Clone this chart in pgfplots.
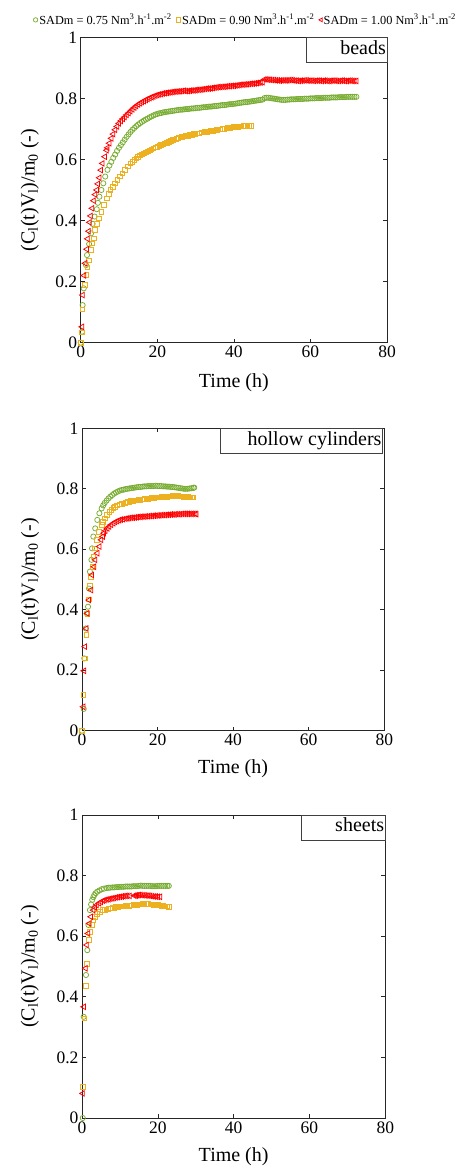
\documentclass[border=0pt]{standalone}
\usepackage{fontspec}
\setmainfont{Liberation Serif}
\usepackage{pgfplots}
\pgfplotsset{compat=1.18}

\definecolor{cgreen}{RGB}{119,172,48}
\definecolor{corange}{RGB}{237,177,32}
\definecolor{cred}{RGB}{255,0,0}

\pgfplotsset{
  panel/.style={
    scale only axis,
    anchor=south west,
    xmin=0, xmax=80, ymin=0, ymax=1,
    xtick={0,20,40,60,80},
    ytick={0,0.2,0.4,0.6,0.8,1},
    tick align=inside,
    major tick length=4pt,
    axis line style={line width=0.8pt, black!85},
    tick style={line width=0.6pt, black!85},
    ticklabel style={font=\fontsize{17.5}{20}\selectfont},
    /pgf/number format/assume math mode=true,
    label style={font=\fontsize{20}{22}\selectfont},
    xlabel={Time (h)},
    ylabel={(C\textsubscript{l}(t)V\textsubscript{l})/m\textsubscript{0} (-)},
    clip=false,
  },
  sg/.style={only marks, mark=o, mark size=2.6pt, draw=cgreen, mark options={line width=0.75pt}},
  so/.style={only marks, mark=square, mark size=2.3pt, draw=corange, mark options={line width=0.75pt}},
  sr/.style={only marks, mark=triangle, mark size=3.2pt, draw=cred, mark options={rotate=90, line width=0.75pt}},
}

\begin{document}
\begin{tikzpicture}
\path[use as bounding box] (0pt,0pt) rectangle (456pt,1166pt);

% ---------------- beads ----------------
\begin{axis}[panel,
  at={(80.7pt,823.3pt)}, width=306.3pt, height=305.4pt,
  xlabel style={at={(axis description cs:0.5,-0.13)}, anchor=center},
  ylabel style={at={(axis description cs:-0.166,0.5)}, anchor=center},
  legend columns=3,
  legend style={draw=none, fill=none, inner sep=0pt, at={(axis description cs:-0.155,1.057)}, anchor=west,
    font=\fontsize{12.3}{14}\selectfont,
    nodes={inner sep=1.5pt},
    /tikz/every even column/.append style={column sep=3pt}},
  legend image code/.code={\draw[#1, mark size=2.2pt] plot coordinates {(0pt,0pt)};},
]
\addplot[sg] coordinates {
(0,0) (0.35,0.036) (0.5,0.123) (0.8,0.178) (1.4,0.254) (1.65,0.287) (2.2,0.323) (2.7,0.358)
(3.1,0.389) (3.65,0.413) (4.2,0.437) (4.5,0.458) (4.9,0.478) (5.4,0.50) (5.9,0.522) (6.4,0.544)
(7.0,0.566) (7.5,0.58) (8.0,0.592) (8.5,0.605) (9.0,0.616) (9.5,0.628) (10,0.638) (10.5,0.647)
(11,0.656) (11.5,0.665) (12,0.674) (12.5,0.682) (13,0.69) (13.5,0.697) (14,0.703) (14.5,0.709)
(15,0.714) (15.5,0.719) (16,0.723) (16.5,0.727) (17,0.731) (17.5,0.734) (18,0.738) (18.5,0.741)
(19,0.744) (19.5,0.747) (20,0.749) (20.5,0.751) (21,0.752) (21.5,0.754) (22,0.755) (22.5,0.756)
(23,0.757) (23.5,0.758) (24,0.759) (24.5,0.760) (25,0.761) (25.5,0.762) (26,0.763) (26.5,0.763)
(27,0.764) (27.5,0.765) (28,0.765) (28.5,0.766) (29,0.767) (29.5,0.767) (30,0.768) (30.5,0.769)
(31,0.769) (31.5,0.770) (32,0.771) (32.5,0.771) (33,0.772) (33.5,0.773) (34,0.773) (34.5,0.774)
(35,0.775) (35.5,0.775) (36,0.776) (36.5,0.777) (37,0.778) (37.5,0.778) (38,0.779) (38.5,0.780)
(39,0.781) (39.5,0.781) (40,0.782) (40.5,0.783) (41,0.784) (41.5,0.785) (42,0.786) (42.5,0.787)
(43,0.788) (43.5,0.788) (44,0.789) (44.5,0.790) (45,0.791) (45.5,0.792) (46,0.793) (46.5,0.794)
(47,0.795) (47.5,0.796) (48,0.801) (48.5,0.802) (49,0.802) (49.5,0.801) (50,0.800) (50.5,0.799)
(51,0.798) (51.5,0.797) (52,0.796) (52.5,0.795) (53,0.795) (53.5,0.795) (54,0.796) (54.5,0.796)
(55,0.797) (55.5,0.797) (56,0.797) (56.5,0.798) (57,0.798) (57.5,0.798) (58,0.798) (58.5,0.799)
(59,0.799) (59.5,0.799) (60,0.800) (60.5,0.800) (61,0.800) (61.5,0.801) (62,0.801) (62.5,0.801)
(63,0.801) (63.5,0.802) (64,0.802) (64.5,0.802) (65,0.802) (65.5,0.803) (66,0.803) (66.5,0.803)
(67,0.803) (67.5,0.804) (68,0.804) (68.5,0.804) (69,0.804) (69.5,0.805) (70,0.805) (70.5,0.805)
(71,0.805) (71.5,0.805) (72,0.805)
};
\addlegendentry{SADm = 0.75 Nm\textsuperscript{3}.h\textsuperscript{-1}.m\textsuperscript{-2}}
\addplot[so] coordinates {
(0,0) (0.25,0.034) (0.45,0.109) (1.1,0.19) (1.5,0.222) (1.75,0.247) (2.1,0.269) (2.6,0.303)
(2.95,0.325) (3.4,0.342) (3.75,0.369) (4.2,0.39) (4.8,0.407) (5.4,0.429) (6.1,0.451) (6.8,0.473)
(7.3,0.488) (7.8,0.50) (8.4,0.511) (9.0,0.522) (9.6,0.533) (10.3,0.544) (10.9,0.555) (11.6,0.566)
(12.3,0.577) (13,0.587) (13.5,0.593) (14,0.598) (14.5,0.604) (15,0.609) (15.5,0.613) (16,0.617)
(16.5,0.62) (17,0.623) (17.5,0.627) (18,0.630) (18.5,0.633) (19,0.636) (19.5,0.639) (20,0.641)
(20.5,0.644) (21,0.647) (21.5,0.650) (22,0.652) (22.5,0.655) (23,0.658) (23.5,0.661) (24,0.664)
(24.5,0.666) (25,0.668) (25.5,0.670) (26,0.672) (26.5,0.674) (27,0.675) (27.5,0.677) (28,0.678)
(28.5,0.680) (29,0.681) (29.5,0.683) (30,0.684) (30.5,0.685) (31,0.686) (31.5,0.688) (32,0.689)
(32.5,0.690) (33,0.691) (33.5,0.692) (34,0.693) (34.5,0.694) (35,0.695) (35.5,0.697) (36,0.698)
(36.5,0.699) (37,0.700) (37.5,0.701) (38,0.702) (38.5,0.703) (39,0.704) (39.5,0.705) (40,0.706)
(40.5,0.706) (41,0.707) (41.5,0.708) (42,0.708) (42.5,0.709) (43,0.709) (43.5,0.709) (44,0.709) (44.5,0.710)
};
\addlegendentry{SADm = 0.90 Nm\textsuperscript{3}.h\textsuperscript{-1}.m\textsuperscript{-2}}
\addplot[sr] coordinates {
(0.35,0.052) (0.5,0.156) (0.9,0.22) (1.2,0.26) (1.6,0.306) (1.8,0.34) (2.1,0.365) (2.35,0.394)
(2.6,0.415) (3.0,0.44) (3.4,0.465) (3.8,0.485) (4.2,0.50) (4.5,0.52) (4.9,0.54) (5.3,0.565)
(5.7,0.587) (6.3,0.609) (6.8,0.63) (7.0,0.638) (7.5,0.653) (8.0,0.669) (8.5,0.683) (9.0,0.697)
(9.5,0.708) (10,0.718) (10.5,0.726) (11,0.733) (11.5,0.739) (12,0.746) (12.5,0.752) (13,0.758)
(13.5,0.764) (14,0.770) (14.5,0.775) (15,0.780) (15.5,0.784) (16,0.788) (16.5,0.791) (17,0.795)
(17.5,0.798) (18,0.801) (18.5,0.804) (19,0.806) (19.5,0.809) (20,0.811) (20.5,0.813) (21,0.814)
(21.5,0.816) (22,0.817) (22.5,0.818) (23,0.819) (23.5,0.820) (24,0.821) (24.5,0.822) (25,0.822)
(25.5,0.823) (26,0.823) (26.5,0.824) (27,0.825) (27.5,0.824) (28,0.824) (28.5,0.825) (29,0.826)
(29.5,0.826) (30,0.827) (30.5,0.828) (31,0.828) (31.5,0.829) (32,0.830) (32.5,0.831) (33,0.832)
(33.5,0.832) (34,0.833) (34.5,0.834) (35,0.835) (35.5,0.836) (36,0.837) (36.5,0.837) (37,0.838)
(37.5,0.838) (38,0.839) (38.5,0.840) (39,0.840) (39.5,0.841) (40,0.841) (40.5,0.842) (41,0.843)
(41.5,0.844) (42,0.845) (42.5,0.845) (43,0.846) (43.5,0.846) (44,0.847) (44.5,0.848) (45,0.848)
(45.5,0.849) (46,0.850) (46.5,0.851) (47,0.852) (47.5,0.853) (48,0.862) (48.5,0.862) (49,0.861)
(49.5,0.861) (50,0.860) (50.5,0.860) (51,0.859) (51.5,0.859) (52,0.858) (52.5,0.859) (53,0.859)
(53.5,0.859) (54,0.859) (54.5,0.860) (55,0.860) (55.5,0.859) (56,0.858) (56.5,0.858) (57,0.857)
(57.5,0.858) (58,0.858) (58.5,0.859) (59,0.859) (59.5,0.858) (60,0.858) (60.5,0.858) (61,0.857)
(61.5,0.858) (62,0.858) (62.5,0.858) (63,0.857) (63.5,0.858) (64,0.858) (64.5,0.857) (65,0.857)
(65.5,0.858) (66,0.858) (66.5,0.858) (67,0.857) (67.5,0.857) (68,0.858) (68.5,0.858) (69,0.857)
(69.5,0.857) (70,0.858) (70.5,0.858) (71,0.857) (71.5,0.857) (72,0.857)
};
\addlegendentry{SADm = 1.00 Nm\textsuperscript{3}.h\textsuperscript{-1}.m\textsuperscript{-2}}
\draw[black!75, line width=0.8pt, fill=white] (rel axis cs:0.7356,1) rectangle (rel axis cs:1,0.917);
\node[anchor=base east, inner sep=1pt, font=\fontsize{20}{22}\selectfont] at (rel axis cs:1,0.944) {beads};
\end{axis}

% ---------------- hollow cylinders ----------------
\begin{axis}[panel,
  at={(82pt,435.3pt)}, width=302.3pt, height=302.4pt,
  xlabel style={at={(axis description cs:0.5,-0.127)}, anchor=center},
  ylabel style={at={(axis description cs:-0.172,0.5)}, anchor=center},
]
\addplot[sg] coordinates {
(0,0) (0.45,0.072) (0.6,0.239) (1.0,0.338) (1.25,0.388) (1.6,0.41) (1.85,0.47) (2.1,0.526)
(2.5,0.565) (2.65,0.603) (3.0,0.642) (3.5,0.669) (4.05,0.697) (4.6,0.719) (5.2,0.735) (5.6,0.745)
(6.0,0.753) (6.5,0.761) (7.0,0.768) (7.5,0.774) (8,0.779) (8.5,0.784) (9,0.788) (9.5,0.791)
(10,0.794) (10.5,0.796) (11,0.797) (11.5,0.799) (12,0.800) (12.5,0.801) (13,0.802) (13.5,0.803)
(14,0.804) (14.5,0.805) (15,0.806) (15.5,0.806) (16,0.807) (16.5,0.808) (17,0.808) (17.5,0.809)
(18,0.809) (18.5,0.809) (19,0.809) (19.5,0.810) (20,0.809) (20.5,0.809) (21,0.809) (21.5,0.808)
(22,0.808) (22.5,0.807) (23,0.807) (23.5,0.806) (24,0.806) (24.5,0.805) (25,0.804) (25.5,0.803)
(26,0.802) (26.5,0.801) (27,0.800) (27.5,0.800) (28,0.800) (28.5,0.801) (29,0.802) (29.5,0.803) (29.7,0.804)
};
\addplot[so] coordinates {
(0,0) (0.35,0.118) (0.7,0.239) (1.15,0.316) (1.4,0.386) (1.85,0.434) (2.1,0.478) (2.4,0.509)
(2.75,0.542) (3.0,0.576) (3.45,0.603) (3.9,0.631) (4.5,0.658) (5.2,0.68) (5.6,0.69) (6.1,0.702)
(6.6,0.713) (7.2,0.724) (7.8,0.731) (8.3,0.737) (8.7,0.741) (9.3,0.745) (10,0.749) (10.5,0.751)
(11,0.752) (11.5,0.754) (12,0.756) (12.5,0.757) (13,0.759) (13.5,0.760) (14,0.761) (14.5,0.762)
(15,0.763) (15.5,0.764) (16,0.765) (16.5,0.766) (17,0.767) (17.5,0.767) (18,0.768) (18.5,0.769)
(19,0.770) (19.5,0.771) (20,0.772) (20.5,0.772) (21,0.773) (21.5,0.773) (22,0.774) (22.5,0.774)
(23,0.775) (23.5,0.775) (24,0.776) (24.5,0.776) (25,0.776) (25.5,0.776) (26,0.775) (26.5,0.775)
(27,0.774) (27.5,0.774) (28,0.773) (28.5,0.772) (29,0.772) (29.5,0.772)
};
\addplot[sr] coordinates {
(0.35,0.079) (0.55,0.198) (0.8,0.278) (1.15,0.338) (1.4,0.388) (1.85,0.432) (2.4,0.465) (2.65,0.515)
(3.2,0.542) (3.5,0.565) (4.05,0.587) (4.6,0.609) (5.1,0.631) (5.5,0.642) (5.8,0.653) (6.2,0.661)
(6.7,0.669) (7.2,0.675) (7.7,0.681) (8.3,0.686) (8.8,0.690) (9.3,0.693) (9.8,0.696) (10.3,0.698)
(10.9,0.699) (11.5,0.701) (12,0.702) (12.5,0.703) (13,0.704) (13.5,0.704) (14,0.705) (14.5,0.706)
(15,0.707) (15.5,0.707) (16,0.708) (16.5,0.708) (17,0.709) (17.5,0.709) (18,0.710) (18.5,0.710)
(19,0.711) (19.5,0.711) (20,0.712) (20.5,0.712) (21,0.713) (21.5,0.713) (22,0.713) (22.5,0.714)
(23,0.714) (23.5,0.715) (24,0.715) (24.5,0.715) (25,0.716) (25.5,0.716) (26,0.716) (26.5,0.717)
(27,0.717) (27.5,0.717) (28,0.717) (28.5,0.717) (29,0.717) (29.5,0.717) (30,0.717) (30.3,0.716)
};
\draw[black!75, line width=0.8pt, fill=white] (rel axis cs:0.4565,1) rectangle (rel axis cs:0.9947,0.916);
\node[anchor=base east, inner sep=1pt, font=\fontsize{20}{22}\selectfont] at (rel axis cs:0.9947,0.943) {hollow cylinders};
\end{axis}

% ---------------- sheets ----------------
\begin{axis}[panel,
  at={(82pt,48pt)}, width=303.3pt, height=303pt,
  xlabel style={at={(axis description cs:0.5,-0.127)}, anchor=center},
  ylabel style={at={(axis description cs:-0.172,0.5)}, anchor=center},
]
\addplot[sg] coordinates {
(0.2,0) (0.45,0.334) (1.05,0.472) (1.4,0.554) (1.7,0.637) (2.1,0.686) (2.4,0.705) (2.7,0.72)
(3.0,0.729) (3.25,0.736) (3.6,0.742) (4.05,0.747) (4.6,0.751) (5.2,0.755) (5.8,0.757) (6.5,0.759)
(7,0.760) (7.4,0.760) (8,0.761) (8.5,0.761) (9,0.762) (9.5,0.762) (10,0.763) (10.5,0.763)
(11,0.763) (11.5,0.764) (12,0.764) (12.5,0.764) (13,0.764) (13.5,0.765) (14,0.765) (14.5,0.765)
(15,0.766) (15.5,0.767) (16,0.766) (16.5,0.766) (17,0.766) (17.5,0.766) (18,0.766) (18.5,0.765)
(19,0.765) (19.5,0.765) (20,0.766) (20.5,0.766) (21,0.766) (21.5,0.766) (22,0.766) (22.5,0.766) (22.9,0.766)
};
\addplot[so] coordinates {
(0.25,0.103) (0.6,0.329) (0.95,0.436) (1.3,0.508) (1.75,0.587) (2.1,0.615) (2.55,0.637) (3.0,0.652)
(3.4,0.664) (4.0,0.673) (4.75,0.681) (5.5,0.686) (6,0.687) (6.4,0.689) (7,0.691) (7.4,0.692)
(8,0.693) (8.5,0.694) (9,0.696) (9.5,0.697) (10,0.698) (10.5,0.699) (11,0.699) (11.5,0.700)
(12,0.700) (12.5,0.701) (13,0.702) (13.5,0.703) (14,0.704) (14.5,0.704) (15,0.705) (15.5,0.705)
(16,0.706) (16.5,0.706) (17,0.706) (17.5,0.706) (18,0.705) (18.5,0.705) (19,0.704) (19.5,0.703)
(20,0.703) (20.5,0.702) (21,0.701) (21.5,0.700) (22,0.699) (22.5,0.698) (22.9,0.697)
};
\addplot[sr] coordinates {
(0.2,0.081) (0.5,0.367) (0.95,0.494) (1.25,0.571) (1.6,0.609) (1.95,0.642) (2.35,0.664) (3.0,0.686)
(3.4,0.695) (3.85,0.703) (4.5,0.709) (5,0.713) (5.6,0.717) (6,0.719) (6.5,0.721) (7,0.722)
(7.5,0.724) (8,0.725) (8.5,0.726) (9,0.728) (9.5,0.729) (10,0.730) (10.5,0.731) (11,0.732)
(11.5,0.733) (12,0.733) (12.6,0.733)
(13.8,0.734) (14.2,0.734) (14.6,0.735) (15,0.736) (15.5,0.736) (16,0.735) (16.5,0.735) (17,0.734)
(17.5,0.734) (18,0.733) (18.5,0.732) (19,0.731) (19.5,0.731) (20,0.730) (20.6,0.730)
};
\draw[black!75, line width=0.8pt, fill=white] (rel axis cs:0.723,1) rectangle (rel axis cs:1,0.9175);
\node[anchor=base east, inner sep=1pt, font=\fontsize{20}{22}\selectfont] at (rel axis cs:1,0.944) {sheets};
\end{axis}
\end{tikzpicture}
\end{document}
